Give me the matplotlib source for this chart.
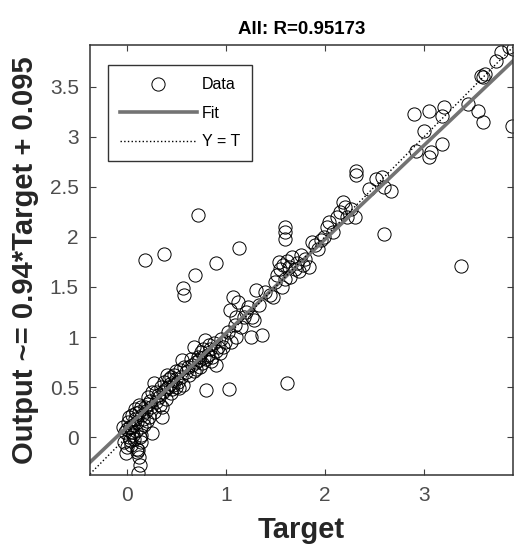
import matplotlib.pyplot as plt
import numpy as np

plt.rcParams['font.family'] = ['Liberation Sans', 'DejaVu Sans']

title = 'All: R=0.95173'
x_label = 'Target'
y_label = 'Output ~= 0.94*Target + 0.095'
fit_slope = 0.94
fit_offset = 0.095
x_ticks = [0, 1, 2, 3]
y_ticks = [0, 0.5, 1, 1.5, 2, 2.5, 3, 3.5]
lims = [-0.37, 3.9]

# targets / outputs, grouped by region
target_0 = [-0.03, -0.02, 0.0, 0.0, 0.01, 0.02, 0.02, 0.03, 0.04, 0.05, 0.05, 0.06, 0.07,
            0.08, 0.08, 0.09, 0.1, 0.1, 0.11, 0.12, 0.12, 0.13, 0.14, 0.15, 0.15, 0.16,
            0.17, 0.18, 0.19, 0.2, 0.21, 0.22, 0.23, 0.24, 0.1, 0.11, 0.13, 0.12, 0.14, 0.09,
            -0.04, -0.01, 0.03, 0.06]
output_0 = [-0.05, 0.05, 0.08, -0.1, 0.15, 0.0, 0.2, 0.1, -0.08, 0.05, 0.22, 0.12, -0.02,
            0.18, 0.28, 0.06, 0.15, -0.12, -0.36, 0.25, -0.2, -0.28, 0.1, 0.3, 0.02, 0.22,
            0.18, 0.12, 0.3, 0.26, 0.16, 0.33, 0.2, 0.36, -0.15, -0.13, 0.0, 0.32, -0.05, 0.24,
            0.1, -0.16, -0.03, 0.02]

target_1 = [0.22, 0.25, 0.26, 0.28, 0.3, 0.3, 0.32, 0.33, 0.35, 0.36, 0.37, 0.38, 0.4, 0.4,
            0.42, 0.43, 0.45, 0.45, 0.47, 0.48, 0.5, 0.5, 0.52, 0.53, 0.54, 0.55, 0.56, 0.57,
            0.58, 0.6, 0.28, 0.34, 0.44, 0.5, 0.36, 0.26, 0.41, 0.46]
output_1 = [0.4, 0.3, 0.04, 0.54, 0.35, 0.45, 0.42, 0.4, 0.5, 0.2, 0.45, 0.55, 0.38, 0.48,
            0.5, 0.58, 0.6, 0.44, 0.52, 0.62, 0.5, 0.66, 0.55, 0.49, 0.67, 0.6, 0.77, 0.52,
            0.7, 0.65, 0.25, 0.32, 0.53, 0.58, 0.3, 0.45, 0.62, 0.48]

target_2 = [0.62, 0.63, 0.65, 0.66, 0.68, 0.68, 0.7, 0.72, 0.73, 0.74, 0.75, 0.76, 0.78,
            0.79, 0.8, 0.82, 0.84, 0.85, 0.86, 0.88, 0.9, 0.9, 0.92, 0.94, 0.95, 0.97, 0.99,
            0.7, 0.77, 0.83]
output_2 = [0.7, 0.62, 0.78, 0.72, 0.9, 0.66, 0.75, 0.8, 0.77, 0.7, 0.85, 0.74, 0.8, 0.97,
            0.78, 0.82, 0.88, 0.76, 0.8, 0.94, 0.72, 0.86, 0.9, 0.84, 0.98, 0.9, 0.95, 0.68,
            0.88, 0.92]

target_3 = [1.02, 1.04, 1.05, 1.07, 1.09, 1.1, 1.1, 1.12, 1.15, 1.18, 1.2, 1.22, 1.26, 1.27,
            1.29, 1.31, 1.34, 1.37, 1.4, 1.45]
output_3 = [1.05, 1.27, 0.95, 1.4, 1.12, 1.0, 1.2, 1.35, 1.1, 1.2, 1.25, 1.3, 1.0, 1.2,
            1.17, 1.47, 1.32, 1.02, 1.45, 1.42]

target_4 = [1.48, 1.5, 1.52, 1.54, 1.55, 1.57, 1.58, 1.6, 1.62, 1.64, 1.65, 1.67, 1.7, 1.72,
            1.74, 1.76, 1.78, 1.8, 1.84, 1.87, 1.9, 1.93, 1.96, 1.99, 2.02]
output_4 = [1.4, 1.55, 1.62, 1.75, 1.68, 1.5, 1.72, 1.58, 1.76, 1.7, 1.6, 1.8, 1.68, 1.74,
            1.66, 1.82, 1.72, 1.78, 1.7, 1.95, 1.92, 1.88, 1.97, 2.0, 2.1]

target_5 = [2.04, 2.08, 2.12, 2.15, 2.18, 2.2, 2.22, 2.26, 2.3, 2.32, 2.32, 2.45, 2.52, 2.58,
            2.6, 2.67]
output_5 = [2.15, 2.05, 2.2, 2.25, 2.35, 2.3, 2.2, 2.28, 2.2, 2.66, 2.62, 2.48, 2.58, 2.6,
            2.5, 2.46]

target_6 = [2.9, 3.05, 3.2, 3.18, 3.55, 3.6, 3.89, 3.58, 3.6, 3.62, 3.78, 3.86, 3.9, 3.0,
            3.18, 2.92, 3.05, 3.07, 3.45, 3.73]
output_6 = [3.23, 3.26, 3.3, 3.21, 3.26, 3.15, 3.11, 3.61, 3.6, 3.63, 3.85, 3.9, 3.88, 3.06,
            2.93, 2.86, 2.8, 2.85, 3.33, 3.76]

target_out = [0.19, 0.38, 0.72, 0.57, 0.58, 0.69, 0.9, 1.13, 0.8, 1.03, 1.62, 1.6, 1.6, 1.6,
              2.6, 3.37]
output_out = [1.77, 1.83, 2.22, 1.49, 1.42, 1.62, 1.74, 1.89, 0.47, 0.48, 0.54, 2.1, 2.05,
              1.98, 2.03, 1.71]

targets = np.array(target_0 + target_1 + target_2 + target_3 + target_4 + target_5
                   + target_6 + target_out)
outputs = np.array(output_0 + output_1 + output_2 + output_3 + output_4 + output_5
                   + output_6 + output_out)

fig = plt.figure(figsize=(5.21, 5.48), dpi=100)
ax = fig.add_axes([0.1727, 0.1332, 0.812, 0.7847])

ax.plot(targets, outputs, 'o', mfc='none', mec='black', ms=9.5, mew=0.7,
        label='Data', clip_on=True)
line_x = np.array(lims)
ax.plot(line_x, fit_slope * line_x + fit_offset, '-', color='0.45', lw=2.6, label='Fit')
ax.plot(line_x, line_x, ':', color='black', lw=1.0, label='Y = T')

ax.set_xlim(lims)
ax.set_ylim(-0.38, 3.92)
ax.set_xticks(x_ticks)
ax.set_yticks(y_ticks)
ax.set_yticklabels(['0', '0.5', '1', '1.5', '2', '2.5', '3', '3.5'])
ax.tick_params(direction='in', top=True, right=True, length=4, width=0.8,
               labelsize=15, labelcolor='0.3', colors='0.25', pad=8)
ax.tick_params(axis='y', pad=8)
for s in ax.spines.values():
    s.set_color('0.2')
    s.set_linewidth(1.1)

ax.set_title(title, fontsize=13.5, fontweight='bold', pad=8)
ax.set_xlabel(x_label, fontsize=21, fontweight='bold', color='0.15', labelpad=8)
ax.set_ylabel(y_label, fontsize=21, fontweight='bold', color='0.15', labelpad=8)

leg = ax.legend(loc='upper left', bbox_to_anchor=(0.043, 0.953), borderaxespad=0,
                fontsize=11.5, numpoints=1, handlelength=4.8, handletextpad=0.3,
                labelspacing=0.85, fancybox=False, framealpha=1, borderpad=0.75)
leg.get_frame().set_edgecolor('0.2')
leg.get_frame().set_linewidth(1.0)

fig.savefig('out.png', dpi=100)
